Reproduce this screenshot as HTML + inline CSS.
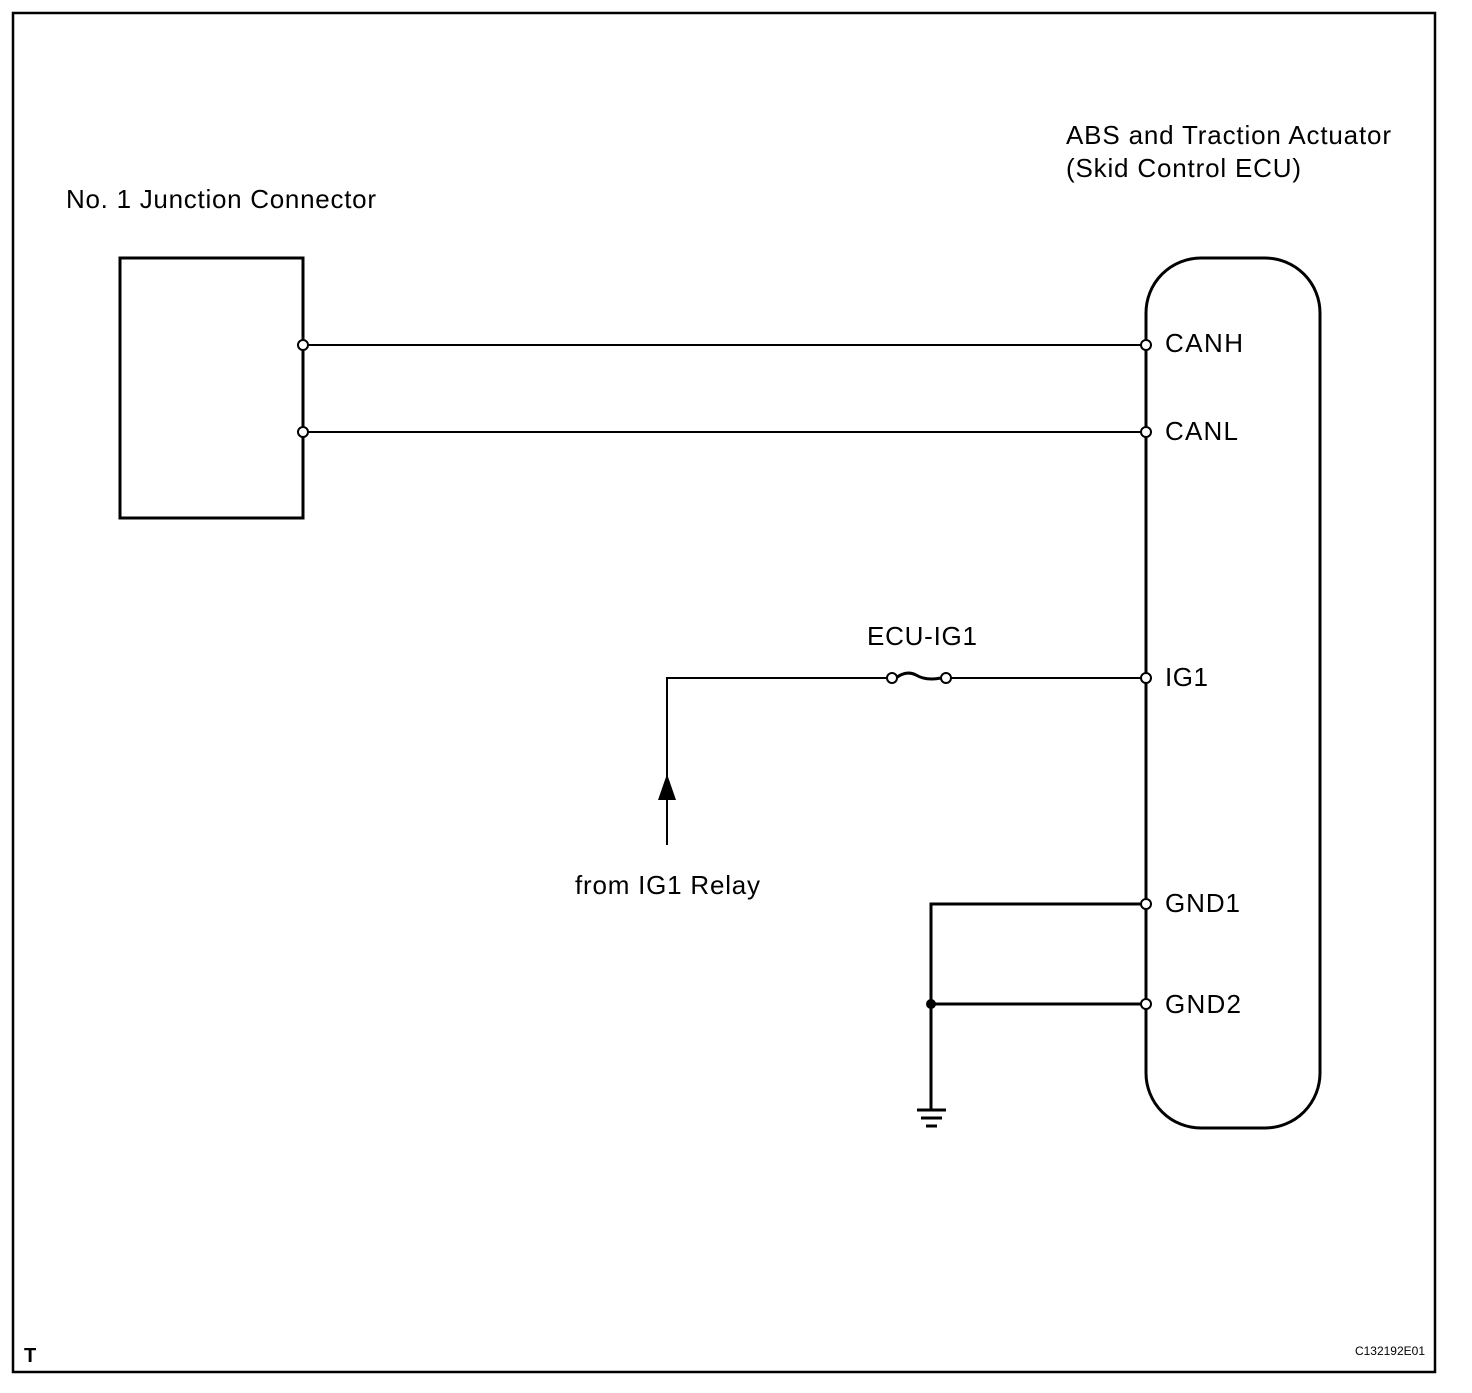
<!DOCTYPE html>
<html><head><style>
body{margin:0;background:#fff}
svg text{font-family:"Liberation Sans",Arial,sans-serif;fill:#000}
</style></head><body>
<svg width="1472" height="1388" xmlns="http://www.w3.org/2000/svg">
<rect x="13" y="13" width="1422" height="1359" fill="none" stroke="#000" stroke-width="2.5"/>
<rect x="120" y="258" width="183" height="260" fill="none" stroke="#000" stroke-width="3"/>
<rect x="1146" y="258" width="174" height="870" rx="55" ry="55" fill="none" stroke="#000" stroke-width="3"/>
<g stroke="#000" stroke-width="2" fill="none">
<line x1="303" y1="345" x2="1146" y2="345"/>
<line x1="303" y1="432" x2="1146" y2="432"/>
<line x1="950" y1="678" x2="1146" y2="678"/>
<polyline points="888,678 667,678 667,845"/>
<polyline points="1146,904 931,904 931,1110" stroke-width="3"/>
<line x1="931" y1="1004" x2="1146" y2="1004" stroke-width="3"/>
<path d="M896,678 q10,-8 20,-3 q10,6 25,3" stroke-width="3"/>
<line x1="917" y1="1110" x2="946" y2="1110" stroke-width="3"/>
<line x1="921" y1="1118" x2="942" y2="1118" stroke-width="3"/>
<line x1="926" y1="1126" x2="937" y2="1126" stroke-width="3"/>
</g>
<polygon points="667,774 658,800 676,800" fill="#000"/>
<circle cx="931" cy="1004" r="5" fill="#000"/>
<g fill="#fff" stroke="#000" stroke-width="2">
<circle cx="303" cy="345" r="5"/><circle cx="303" cy="432" r="5"/>
<circle cx="1146" cy="345" r="5"/><circle cx="1146" cy="432" r="5"/>
<circle cx="1146" cy="678" r="5"/><circle cx="1146" cy="904" r="5"/><circle cx="1146" cy="1004" r="5"/>
<circle cx="892" cy="678" r="5"/><circle cx="946" cy="678" r="5"/>
</g>
<g font-size="26" lengthAdjust="spacingAndGlyphs">
<text x="1066" y="144" textLength="325">ABS and Traction Actuator</text>
<text x="1066" y="177" textLength="235">(Skid Control ECU)</text>
<text x="66" y="208" textLength="310">No. 1 Junction Connector</text>
<text x="1165" y="352" textLength="78">CANH</text>
<text x="1165" y="440" textLength="73">CANL</text>
<text x="1165" y="686" textLength="43">IG1</text>
<text x="1165" y="912" textLength="75">GND1</text>
<text x="1165" y="1013" textLength="76">GND2</text>
<text x="867" y="645" textLength="110">ECU-IG1</text>
<text x="575" y="894" textLength="185">from IG1 Relay</text>
</g>
<text x="24" y="1362" font-size="20" font-weight="bold">T</text>
<text x="1425" y="1355" font-size="12" text-anchor="end">C132192E01</text>
</svg>
</body></html>
